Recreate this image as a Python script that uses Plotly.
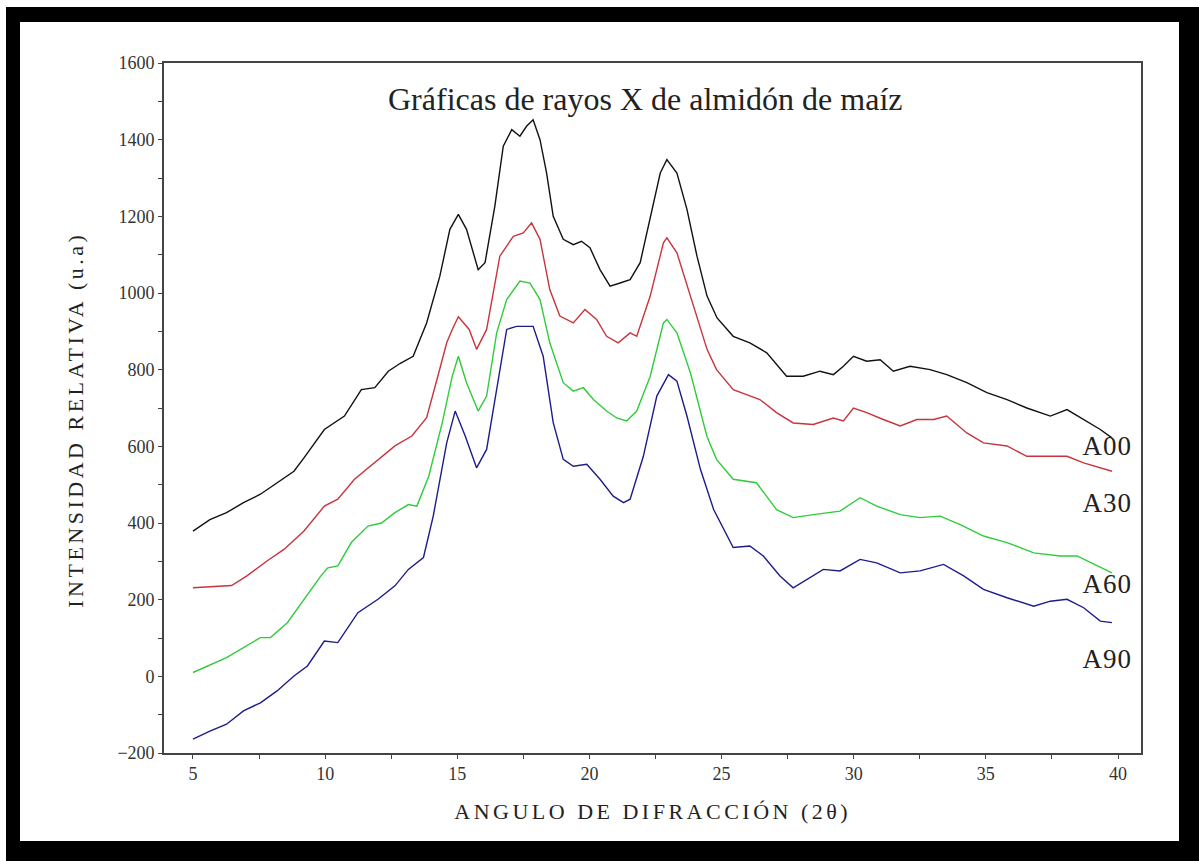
import plotly.graph_objects as go

# ---- data ----
x_a00 = [5.0, 5.64, 6.27, 6.91, 7.55, 8.18, 8.82, 9.2, 9.97, 10.73, 11.37, 11.88, 12.39, 12.83, 13.33,
         13.84, 14.34, 14.72, 15.04, 15.35, 15.79, 16.05, 16.42, 16.74, 17.06, 17.37, 17.62, 17.87, 18.13,
         18.38, 18.63, 19.01, 19.39, 19.7, 20.02, 20.4, 20.78, 21.16, 21.54, 21.92, 22.3, 22.68, 22.93,
         23.31, 23.69, 24.07, 24.45, 24.83, 25.44, 26.07, 26.71, 27.46, 28.09, 28.72, 29.23, 29.61, 29.99,
         30.49, 31.0, 31.5, 32.13, 32.89, 33.52, 34.28, 35.04, 35.8, 36.55, 37.44, 38.07, 38.7, 39.33, 39.77]
y_a00 = [379, 409, 427, 453, 475, 505, 535, 570, 644, 679, 748, 753, 796, 816, 835,
         922, 1044, 1166, 1205, 1166, 1061, 1079, 1226, 1383, 1426, 1409, 1435, 1452, 1400,
         1313, 1200, 1140, 1126, 1135, 1118, 1061, 1018, 1026, 1035, 1079, 1200, 1313, 1348,
         1313, 1218, 1096, 992, 935, 887, 870, 844, 783, 783, 796, 787, 809, 835,
         822, 826, 796, 809, 800, 787, 766, 740, 722, 700, 679, 696, 670, 644, 622]

x_a30 = [5.0, 6.46, 7.04, 7.8, 8.44, 9.2, 9.97, 10.48, 11.11, 11.88, 12.64, 13.28, 13.84, 14.3, 14.6,
         14.81, 15.04, 15.45, 15.73, 16.11, 16.61, 17.12, 17.5, 17.81, 18.13, 18.5, 18.88, 19.39, 19.83,
         20.27, 20.65, 21.09, 21.54, 21.79, 22.3, 22.8, 22.93, 23.31, 23.82, 24.45, 24.81, 25.44, 26.45,
         27.08, 27.71, 28.47, 29.23, 29.61, 29.99, 30.49, 31.12, 31.76, 32.39, 33.02, 33.52, 34.28, 34.91,
         35.8, 36.55, 37.44, 38.07, 38.7, 39.33, 39.77]
y_a30 = [231, 237, 262, 301, 331, 379, 444, 462, 514, 557, 601, 627, 675, 792, 870,
         905, 938, 905, 853, 905, 1096, 1148, 1157, 1183, 1140, 1009, 940, 922, 957,
         931, 887, 870, 896, 887, 992, 1131, 1144, 1105, 992, 853, 800, 748, 722,
         688, 661, 657, 674, 666, 700, 688, 670, 653, 670, 670, 679, 635, 609,
         601, 574, 574, 574, 557, 544, 535]

x_a60 = [5.0, 6.27, 7.55, 7.93, 8.57, 9.2, 9.84, 10.1, 10.48, 10.99, 11.62, 12.13, 12.64, 13.15, 13.47,
         13.92, 14.43, 14.81, 15.04, 15.35, 15.79, 16.11, 16.49, 16.87, 17.37, 17.75, 18.13, 18.5, 19.01,
         19.39, 19.77, 20.15, 20.65, 21.03, 21.41, 21.79, 22.3, 22.8, 22.93, 23.31, 23.82, 24.45, 24.81,
         25.44, 26.32, 27.08, 27.71, 28.47, 29.48, 30.24, 30.87, 31.76, 32.51, 33.27, 34.03, 34.91, 35.8,
         36.81, 37.82, 38.45, 39.08, 39.77]
y_a60 = [10, 49, 101, 101, 140, 201, 262, 283, 288, 349, 392, 400, 427, 448, 444,
         522, 661, 783, 835, 766, 692, 731, 896, 983, 1031, 1026, 983, 870, 766,
         744, 753, 722, 692, 674, 666, 692, 783, 922, 931, 896, 792, 625, 566,
         514, 505, 435, 414, 422, 431, 466, 444, 422, 414, 418, 396, 366, 349,
         322, 314, 314, 292, 270]

x_a90 = [5.0, 5.64, 6.27, 6.91, 7.55, 8.18, 8.82, 9.33, 9.97, 10.48, 11.24, 12.0, 12.64, 13.15, 13.72,
         14.09, 14.6, 14.92, 15.3, 15.73, 16.11, 16.49, 16.87, 17.24, 17.62, 17.87, 18.25, 18.63, 19.01,
         19.39, 19.9, 20.4, 20.9, 21.29, 21.54, 22.04, 22.55, 22.99, 23.31, 23.69, 24.2, 24.7, 25.44,
         26.07, 26.58, 27.21, 27.71, 28.22, 28.85, 29.48, 30.24, 30.87, 31.76, 32.51, 33.4, 34.16, 34.91,
         35.8, 36.81, 37.44, 38.07, 38.7, 39.33, 39.77]
y_a90 = [-164, -143, -125, -90, -69, -38, 1, 27, 92, 88, 166, 201, 236, 279, 310,
         418, 609, 692, 627, 544, 592, 748, 905, 913, 913, 913, 835, 662, 566,
         548, 553, 514, 470, 453, 462, 574, 731, 787, 770, 679, 540, 435, 336,
         340, 314, 262, 231, 253, 279, 275, 305, 296, 270, 275, 292, 262, 227,
         205, 183, 196, 201, 179, 144, 140]

series_names = ["A00", "A30", "A60", "A90"]
series_colors = ["#111111", "#c8343c", "#2fcc3a", "#1c1c8c"]
label_x = [39.6, 39.6, 39.6, 39.6]
label_y = [602, 452, 240, 44]

title_text = "Gráficas de rayos X de almidón de maíz"
x_title = "ANGULO DE DIFRACCIÓN (2θ)"
y_title = "INTENSIDAD RELATIVA (u.a)"

W, H = 1199, 861
L, R, T, B = 164, 1141, 63, 753
pw, ph = R - L, B - T

def px(xp):
    return (xp - L) / pw

def py(yp):
    return (B - yp) / ph

fig = go.Figure()
xs = [x_a00, x_a30, x_a60, x_a90]
ys = [y_a00, y_a30, y_a60, y_a90]
for name, c, xv, yv in zip(series_names, series_colors, xs, ys):
    fig.add_trace(go.Scatter(x=xv, y=yv, mode="lines", name=name,
                             line=dict(color=c, width=1.4), showlegend=False))

serif = "Liberation Serif, Times New Roman, serif"
ann = []
for name, lx, ly in zip(series_names, label_x, label_y):
    ann.append(dict(x=lx, y=ly, xref="x", yref="y", text=name, showarrow=False,
                    font=dict(family=serif, size=27, color="#222222"),
                    xanchor="center", yanchor="middle"))
ann.append(dict(x=px(645), y=py(99), xref="paper", yref="paper", text=title_text,
                showarrow=False, font=dict(family=serif, size=32, color="#222222"),
                xanchor="center", yanchor="middle"))
ann.append(dict(x=px(652), y=py(811), xref="paper", yref="paper", text=x_title,
                showarrow=False, font=dict(family=serif, size=22, color="#222222"),
                xanchor="center", yanchor="middle"))
ann.append(dict(x=px(75), y=py(420), xref="paper", yref="paper", text=y_title,
                showarrow=False, textangle=-90, font=dict(family=serif, size=22, color="#222222"),
                xanchor="center", yanchor="middle"))

shapes = [
    dict(type="rect", xref="paper", yref="paper", x0=px(6), x1=px(1205), y0=py(7), y1=py(870),
         fillcolor="black", line=dict(width=0), layer="below"),
    dict(type="rect", xref="paper", yref="paper", x0=px(20), x1=px(1179), y0=py(22), y1=py(841),
         fillcolor="white", line=dict(width=0), layer="below"),
]

axis_common = dict(showgrid=False, zeroline=False, showline=True, linecolor="#444444", linewidth=1.6,
                   mirror=True, ticks="outside", ticklen=4, tickwidth=1.4, tickcolor="#444444",
                   tickfont=dict(family=serif, size=18, color="#333333"))

fig.update_layout(
    width=W, height=H, autosize=False,
    margin=dict(l=L, r=W - R, t=T, b=H - B, pad=0),
    paper_bgcolor="white", plot_bgcolor="rgba(0,0,0,0)",
    annotations=ann, shapes=shapes,
    xaxis=dict(range=[3.903, 40.87], tick0=0, dtick=5,
               minor=dict(dtick=2.5, tick0=0, ticks="outside", ticklen=4, tickcolor="#444444"),
               **axis_common),
    yaxis=dict(range=[-200, 1600], tick0=0, dtick=200,
               minor=dict(dtick=100, tick0=0, ticks="outside", ticklen=4, tickcolor="#444444"),
               **axis_common),
)

post = """
document.body.style.margin='0';
document.body.style.overflow='hidden';
function spaceTitles(){
  document.querySelectorAll('text.annotation-text').forEach(function(t){
    var s = t.textContent || '';
    if (s.indexOf('ANGULO') >= 0 || s.indexOf('INTENSIDAD') >= 0) { t.style.letterSpacing = '3.5px'; }
    else if (/^A\\d\\d$/.test(s)) { t.style.letterSpacing = '1px'; }
  });
}
spaceTitles();
setTimeout(spaceTitles, 50);
setTimeout(spaceTitles, 300);
var gdEl = document.getElementById('{plot_id}');
if (gdEl && gdEl.on) { gdEl.on('plotly_afterplot', spaceTitles); }
"""

fig.write_html("out.html", config={"displayModeBar": False}, post_script=post)
